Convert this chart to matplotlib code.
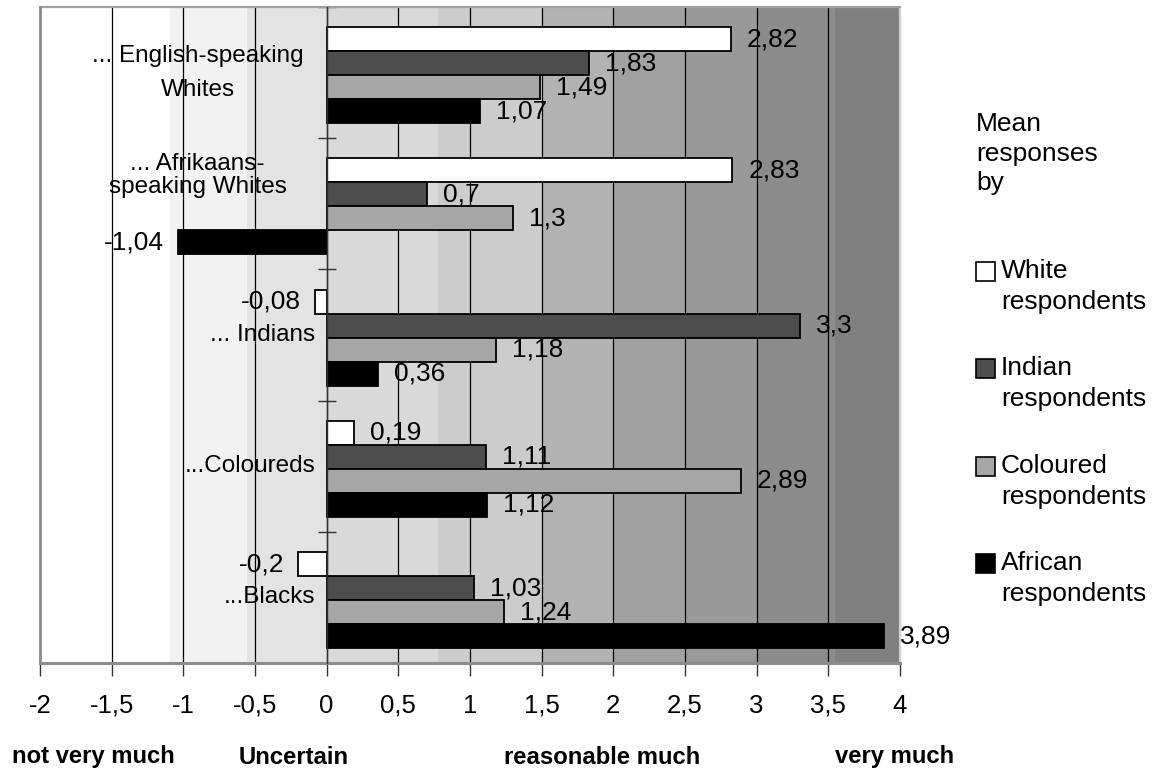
import numpy as np
import matplotlib
matplotlib.use("Agg")
import matplotlib.pyplot as plt
import matplotlib.transforms as mtransforms
from matplotlib.patches import Rectangle

plt.rcParams['font.family'] = ['Liberation Sans', 'DejaVu Sans']

# Groups being rated (top to bottom) and mean responses per respondent group
groups = ['... English-speaking\nWhites', '... Afrikaans-\nspeaking Whites',
          '... Indians', '...Coloureds', '...Blacks']
series = ['White\nrespondents', 'Indian\nrespondents',
          'Coloured\nrespondents', 'African\nrespondents']
white_resp = [2.82, 2.83, -0.08, 0.19, -0.2]
indian_resp = [1.83, 0.7, 3.3, 1.11, 1.03]
coloured_resp = [1.49, 1.3, 1.18, 2.89, 1.24]
african_resp = [1.07, -1.04, 0.36, 1.12, 3.89]
bar_colors = ['#ffffff', '#4d4d4d', '#a6a6a6', '#000000']

x_ticks = [-2, -1.5, -1, -0.5, 0, 0.5, 1, 1.5, 2, 2.5, 3, 3.5, 4]
scale_labels = ['not very much', 'Uncertain', 'reasonable much', 'very much']
scale_pos = [-1.63, -0.23, 1.92, 3.96]

# shaded background zones along the scale
zone_edges = [-2, -1.09, -0.555, 0, 0.775, 1.5, 2.0, 2.5, 3.0, 3.55, 4]
zone_colors = ['#ffffff', '#f2f2f2', '#e3e3e3', '#d9d9d9', '#cccccc',
               '#b3b3b3', '#a1a1a1', '#999999', '#8c8c8c', '#808080']

W, H = 1152, 769
fig = plt.figure(figsize=(W / 100, H / 100), dpi=100)
ax = fig.add_axes([40 / W, 1 - 663 / H, 860 / W, 656 / H])

for (a, b), c in zip(zip(zone_edges[:-1], zone_edges[1:]), zone_colors):
    ax.axvspan(a, b, color=c, lw=0, zorder=0.2)

values = [white_resp, indian_resp, coloured_resp, african_resp]
h = 0.183
y = np.arange(len(groups))
for j, (vals, col) in enumerate(zip(values, bar_colors)):
    yy = y + 0.02 + (j - 1.5) * h
    ax.barh(yy, vals, height=h, color=col, edgecolor='black', lw=1.3, zorder=2)
    for v, yv in zip(vals, yy):
        txt = f'{v:g}'.replace('.', ',')
        if v >= 0:
            ax.annotate(txt, (v, yv), xytext=(11.5, 0), textcoords='offset points',
                        ha='left', va='center', fontsize=19, zorder=4)
        else:
            ax.annotate(txt, (v, yv), xytext=(-10, 0), textcoords='offset points',
                        ha='right', va='center', fontsize=19, zorder=4)

# category labels
for i, g in enumerate(groups):
    if 'Afrikaans' in g:
        ax.text(-0.9, i - 0.215, g, ha='center', va='center', fontsize=17.5,
                linespacing=1.04, zorder=4)
    elif '\n' in g:
        ax.text(-0.9, i, g, ha='center', va='center', fontsize=17.5,
                linespacing=1.7, zorder=4)
    else:
        ax.text(-0.08, i, g, ha='right', va='center', fontsize=17.5, zorder=4)

ax.set_xlim(-2, 4)
ax.set_ylim(4.5, -0.5)
ax.set_xticks(x_ticks)
ax.set_xticklabels([f'{t:g}'.replace('.', ',') for t in x_ticks], fontsize=18.5)
ax.tick_params(axis='x', direction='out', length=9, width=1, color='#333333', pad=13)
ax.grid(axis='x', color='black', lw=0.9)
ax.set_axisbelow(True)

ax.set_yticks(np.arange(-0.5, len(groups), 1.0))
ax.set_yticklabels([])
ax.tick_params(axis='y', direction='inout', length=13, width=1, color='#333333')
ax.spines['left'].set_position(('data', 0))
ax.spines['left'].set_color('#333333')
ax.spines['left'].set_linewidth(1)
ax.spines['left'].set_zorder(3)
ax.spines['bottom'].set_color('#8c8c8c')
ax.spines['bottom'].set_linewidth(2.2)
ax.spines['top'].set_color('#a0a0a0')
ax.spines['top'].set_linewidth(1.6)
ax.spines['right'].set_color('#d0d0d0')
ax.spines['right'].set_linewidth(1.6)
ax.axvline(-2, color='#8c8c8c', lw=2, clip_on=False, zorder=3)

# verbal scale under the numeric axis
scale_tr = mtransforms.blended_transform_factory(ax.transData, fig.transFigure)
for lab, xp in zip(scale_labels, scale_pos):
    ax.text(xp, 1 - 757 / H, lab, transform=scale_tr,
            ha='center', va='center', fontsize=17.2, fontweight='bold')

# legend
fig.text(976 / W, 1 - 112 / H, 'Mean\nresponses\nby', ha='left', va='top',
         fontsize=19, linespacing=1.29)
for k, (lab, col) in enumerate(zip(series, bar_colors)):
    yc = [271, 368, 466, 563][k]
    fig.patches.append(Rectangle((976 / W, 1 - (yc + 9.5) / H), 19 / W, 19 / H,
                                 transform=fig.transFigure, facecolor=col,
                                 edgecolor='black', lw=1.2))
    fig.text(1001 / W, 1 - (yc - 12) / H, lab, ha='left', va='top',
             fontsize=19, linespacing=1.38)

fig.savefig('out.png', dpi=100)
